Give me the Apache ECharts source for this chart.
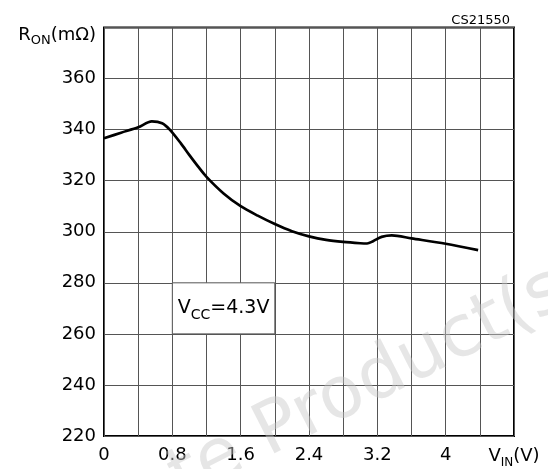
<!DOCTYPE html>
<html><head><meta charset="utf-8">
<script src="https://cdn.jsdelivr.net/npm/echarts@6/dist/echarts.min.js"></script>
<style>html,body{margin:0;padding:0;background:#fff}#c{width:548px;height:469px}</style>
</head><body><div id="c"></div>
<script>
// Data
const vin = [0, 0.2, 0.4, 0.56, 0.68, 0.77, 0.9, 1.0, 1.1, 1.2, 1.4, 1.6, 1.8, 2.0, 2.2, 2.4, 2.6, 2.8, 3.0, 3.08, 3.15, 3.25, 3.37, 3.6, 4.0, 4.38];
const ron = [336.6, 338.8, 340.9, 343.2, 342.5, 340.0, 334.6, 330.0, 325.6, 321.5, 315.0, 310.0, 306.3, 303.0, 300.2, 298.2, 296.8, 296.0, 295.5, 295.4, 296.3, 298.0, 298.6, 297.4, 295.3, 292.8];
const xTickLabels = [0, 0.8, 1.6, 2.4, 3.2, 4];
const yTickLabels = [220, 240, 260, 280, 300, 320, 340, 360];
const xTitle = ['V', 'IN', '(V)'];
const yTitle = ['R', 'ON', '(mΩ)'];
const note = ['V', 'CC', '=4.3V'];
const noteBox = [[0.8, 280], [2.0, 260]];
const codeText = 'CS21550';
const watermark = ['Obsolete ', 'Product(s)'];

const FONT = 'DejaVu Sans';
const chart = echarts.init(document.getElementById('c'), null, {renderer: 'canvas'});
const isTick = (arr, v) => arr.some(t => Math.abs(t - v) < 1e-6);
const wmStyle = {font: '72px "DejaVu Sans"', fill: 'rgba(200,200,200,0.45)', verticalAlign: 'bottom'};

chart.setOption({
  animation: false,
  backgroundColor: '#fff',
  title: {
    text: codeText, right: 33, top: 9,
    textStyle: {fontFamily: FONT, fontSize: 13, fontWeight: 'normal', color: '#000'}
  },
  graphic: [
    {type: 'text', x: 276, y: 472, rotation: 0.47, z: 100, silent: true,
     style: Object.assign({text: watermark[1], align: 'left'}, wmStyle)},
    {type: 'text', x: 276, y: 472, rotation: 0.47, z: 100, silent: true,
     style: Object.assign({text: watermark[0], align: 'right'}, wmStyle)}
  ],
  grid: {left: 104, right: 34, top: 27.5, bottom: 32, show: true, borderColor: '#000', borderWidth: 2, backgroundColor: 'transparent'},
  xAxis: {
    type: 'value', min: 0, max: 4.8, interval: 0.4,
    axisLine: {show: false}, axisTick: {show: false},
    splitLine: {show: true, lineStyle: {color: '#555', width: 1}},
    axisLabel: {
      margin: 10, color: '#000', fontFamily: FONT, fontSize: 18, showMaxLabel: true,
      formatter: v => {
        if (Math.abs(v - 4.8) < 1e-6) return '{t|' + xTitle[0] + '}{s|' + xTitle[1] + '}{t|' + xTitle[2] + '}';
        return isTick(xTickLabels, v) ? String(+v.toFixed(1)) : '';
      },
      rich: {
        t: {fontFamily: FONT, fontSize: 18, lineHeight: 20, color: '#000'},
        s: {fontFamily: FONT, fontSize: 12, lineHeight: 6, padding: [14, 0, 0, 0], color: '#000'}
      }
    }
  },
  yAxis: {
    type: 'value', min: 220, max: 380, interval: 20,
    axisLine: {show: false}, axisTick: {show: false},
    splitLine: {show: true, lineStyle: {color: '#555', width: 1}},
    axisLabel: {
      margin: 8, color: '#000', fontFamily: FONT, fontSize: 18, showMaxLabel: true,
      formatter: v => {
        if (v === 380) return '{t|' + yTitle[0] + '}{s|' + yTitle[1] + '}{t|' + yTitle[2] + '}';
        return isTick(yTickLabels, v) ? String(v) : '';
      },
      rich: {
        t: {fontFamily: FONT, fontSize: 18, lineHeight: 20, padding: [15, 0, 0, 0], color: '#000'},
        s: {fontFamily: FONT, fontSize: 13, lineHeight: 8, padding: [27, 0, 0, 0], color: '#000'}
      }
    }
  },
  series: [{
    type: 'line',
    data: vin.map((x, i) => [x, ron[i]]),
    smooth: 0.3, symbol: 'none',
    lineStyle: {color: '#000', width: 2.7},
    z: 5,
    markArea: {
      silent: true,
      itemStyle: {color: '#fff', borderColor: '#555', borderWidth: 1},
      label: {
        show: true, position: 'inside',
        formatter: '{t|' + note[0] + '}{s|' + note[1] + '}{t|' + note[2] + '}',
        rich: {
          t: {fontFamily: FONT, fontSize: 19, lineHeight: 22, color: '#000'},
          s: {fontFamily: FONT, fontSize: 14, lineHeight: 8, padding: [14, 0, 0, 0], color: '#000'}
        }
      },
      data: [[{xAxis: noteBox[0][0], yAxis: noteBox[0][1]}, {xAxis: noteBox[1][0], yAxis: noteBox[1][1]}]]
    }
  }]
});
</script></body></html>
